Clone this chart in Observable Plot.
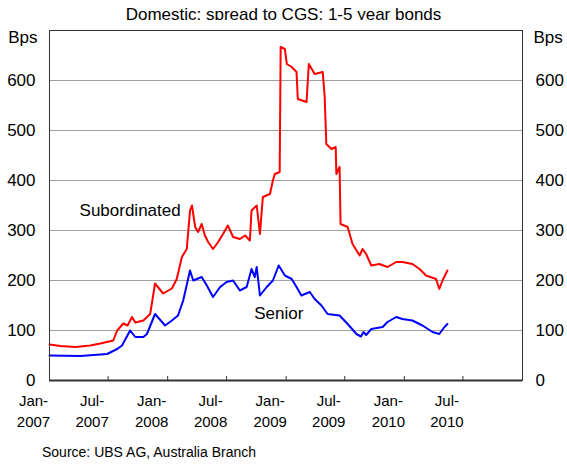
<!DOCTYPE html>
<html><head><meta charset="utf-8">
<script src="https://cdn.jsdelivr.net/npm/d3@7"></script>
<script src="https://cdn.jsdelivr.net/npm/@observablehq/plot@0.6"></script>
<style>
body{margin:0;background:#fff;font-family:"Liberation Sans",Arial,sans-serif;position:relative;width:567px;height:466px;overflow:hidden}
#sub{position:absolute;top:0;left:0;width:567px;height:30px;line-height:30px;text-align:center;font-size:17px;color:#000}
#chart{position:absolute;top:20px;left:0}
#cap{position:absolute;top:443px;left:42px;font-size:14px;line-height:18px;color:#000}
</style></head><body>
<div id="sub">Domestic; spread to CGS; 1-5 year bonds</div>
<div id="chart"></div>
<div id="cap">Source: UBS AG, Australia Branch</div>
<script>
// Subordinated spread (bps)
const subDates = ["2007-01-01","2007-02-04","2007-03-22","2007-05-07","2007-06-07","2007-07-17","2007-07-29","2007-08-17","2007-08-30","2007-09-13","2007-09-23","2007-10-18","2007-11-08","2007-11-23","2007-12-18","2008-01-14","2008-01-29","2008-02-14","2008-02-29","2008-03-10","2008-03-16","2008-03-26","2008-04-04","2008-04-15","2008-04-25","2008-05-05","2008-05-20","2008-06-05","2008-06-20","2008-07-05","2008-07-21","2008-08-11","2008-08-27","2008-09-11","2008-09-16","2008-10-02","2008-10-12","2008-10-21","2008-11-12","2008-11-21","2008-11-27","2008-12-12","2008-12-15","2008-12-28","2009-01-03","2009-01-18","2009-02-02","2009-02-06","2009-03-05","2009-03-12","2009-03-30","2009-04-24","2009-04-30","2009-05-05","2009-05-21","2009-06-03","2009-06-05","2009-06-15","2009-06-18","2009-07-10","2009-07-25","2009-08-16","2009-08-25","2009-09-05","2009-09-21","2009-10-16","2009-11-10","2009-12-07","2009-12-26","2010-01-26","2010-02-17","2010-03-09","2010-04-09","2010-04-19","2010-04-29","2010-05-14"];
const subValues = [72,69,67,70,74,80,100,114,110,127,116,120,133,194,174,184,203,247,263,340,350,307,297,313,290,277,263,277,293,310,287,283,290,280,340,350,293,367,373,400,413,417,667,663,633,627,617,563,557,633,613,617,567,473,463,467,413,427,313,307,273,250,263,253,230,233,227,237,237,233,223,210,203,183,200,220];
// Senior spread (bps)
const senDates = ["2007-01-01","2007-04-06","2007-06-28","2007-07-29","2007-08-13","2007-09-07","2007-09-23","2007-10-18","2007-10-29","2007-11-23","2007-12-24","2008-01-14","2008-02-02","2008-02-18","2008-03-10","2008-03-20","2008-04-15","2008-05-01","2008-05-20","2008-06-11","2008-07-01","2008-07-21","2008-08-11","2008-09-01","2008-09-16","2008-09-26","2008-10-02","2008-10-12","2008-11-02","2008-11-21","2008-12-09","2008-12-28","2009-01-18","2009-02-02","2009-02-17","2009-03-15","2009-03-30","2009-04-20","2009-05-09","2009-06-15","2009-07-10","2009-08-06","2009-08-20","2009-08-28","2009-09-05","2009-09-21","2009-10-26","2009-11-10","2009-12-07","2009-12-26","2010-01-26","2010-02-26","2010-03-29","2010-04-19","2010-05-05","2010-05-14"];
const senValues = [50,49,53,63,70,100,87,87,93,133,110,120,130,160,220,200,207,190,167,187,197,200,180,187,223,207,227,170,187,200,230,210,203,187,170,177,163,150,133,130,113,93,88,97,91,103,107,117,127,123,120,110,97,93,107,113];
// Axis ticks
const xTicks = ["2007-01-01","2007-07-01","2008-01-01","2008-07-01","2009-01-01","2009-07-01","2010-01-01","2010-07-01"];
const monthNames = ["Jan","Feb","Mar","Apr","May","Jun","Jul","Aug","Sep","Oct","Nov","Dec"];
const yTicks = [0,100,200,300,400,500,600];
const gridValues = [100,200,300,400,500,600];
// Annotations
const labelText = ["Subordinated","Senior"];
const labelDates = ["2007-09-07","2008-12-09"];
const labelValues = [339,134];
const unitLabel = "Bps";

const parse = d3.utcParse("%Y-%m-%d");
const sub = subDates.map((d,i)=>({date:parse(d), v:subValues[i]}));
const sen = senDates.map((d,i)=>({date:parse(d), v:senValues[i]}));
const ticks = xTicks.map(parse);
const labels = labelText.map((t,i)=>({t, date:parse(labelDates[i]), v:labelValues[i]}));
const xDomain = [parse("2007-01-01"), parse("2011-01-01")];

const chart = Plot.plot({
  width: 567, height: 415,
  marginLeft: 49, marginRight: 45, marginTop: 10, marginBottom: 55,
  style: {fontFamily: '"Liberation Sans", Arial, sans-serif', color: "#000", background: "#fff"},
  x: {type: "utc", domain: xDomain},
  y: {domain: [0,700]},
  marks: [
    Plot.ruleY(gridValues, {stroke: "#a0a0a0", strokeWidth: 1}),
    Plot.line(sub, {x:"date", y:"v", stroke:"#ff0000", strokeWidth:2}),
    Plot.line(sen, {x:"date", y:"v", stroke:"#0000ff", strokeWidth:2}),
    Plot.ruleX(ticks, {x: d=>d, y1: 0, y2: 8, stroke: "#333"}),
    Plot.frame({stroke: "#333"}),
    Plot.ruleY([0], {stroke: "#333", strokeWidth: 2}),
    Plot.axisY(yTicks, {anchor:"left", tickSize:0, tickPadding:14, fontSize:17, label:null}),
    Plot.axisY(yTicks, {anchor:"right", tickSize:0, tickPadding:13, fontSize:17, label:null}),
    Plot.axisX(ticks, {anchor:"bottom", tickSize:0, tickPadding:11, fontSize:15, lineHeight:1.4, dx:-16, label:null,
      tickFormat: d => monthNames[d.getUTCMonth()] + "-\n" + d.getUTCFullYear()}),
    Plot.text([unitLabel], {x: () => xDomain[0], y: () => 700, dx:-12, dy:7, textAnchor:"end", fontSize:17}),
    Plot.text([unitLabel], {x: () => xDomain[1], y: () => 700, dx:11, dy:7, textAnchor:"start", fontSize:17}),
    Plot.text(labels, {x:"date", y:"v", text:"t", fontSize:17})
  ]
});
document.getElementById("chart").appendChild(chart);
</script>
</body></html>
